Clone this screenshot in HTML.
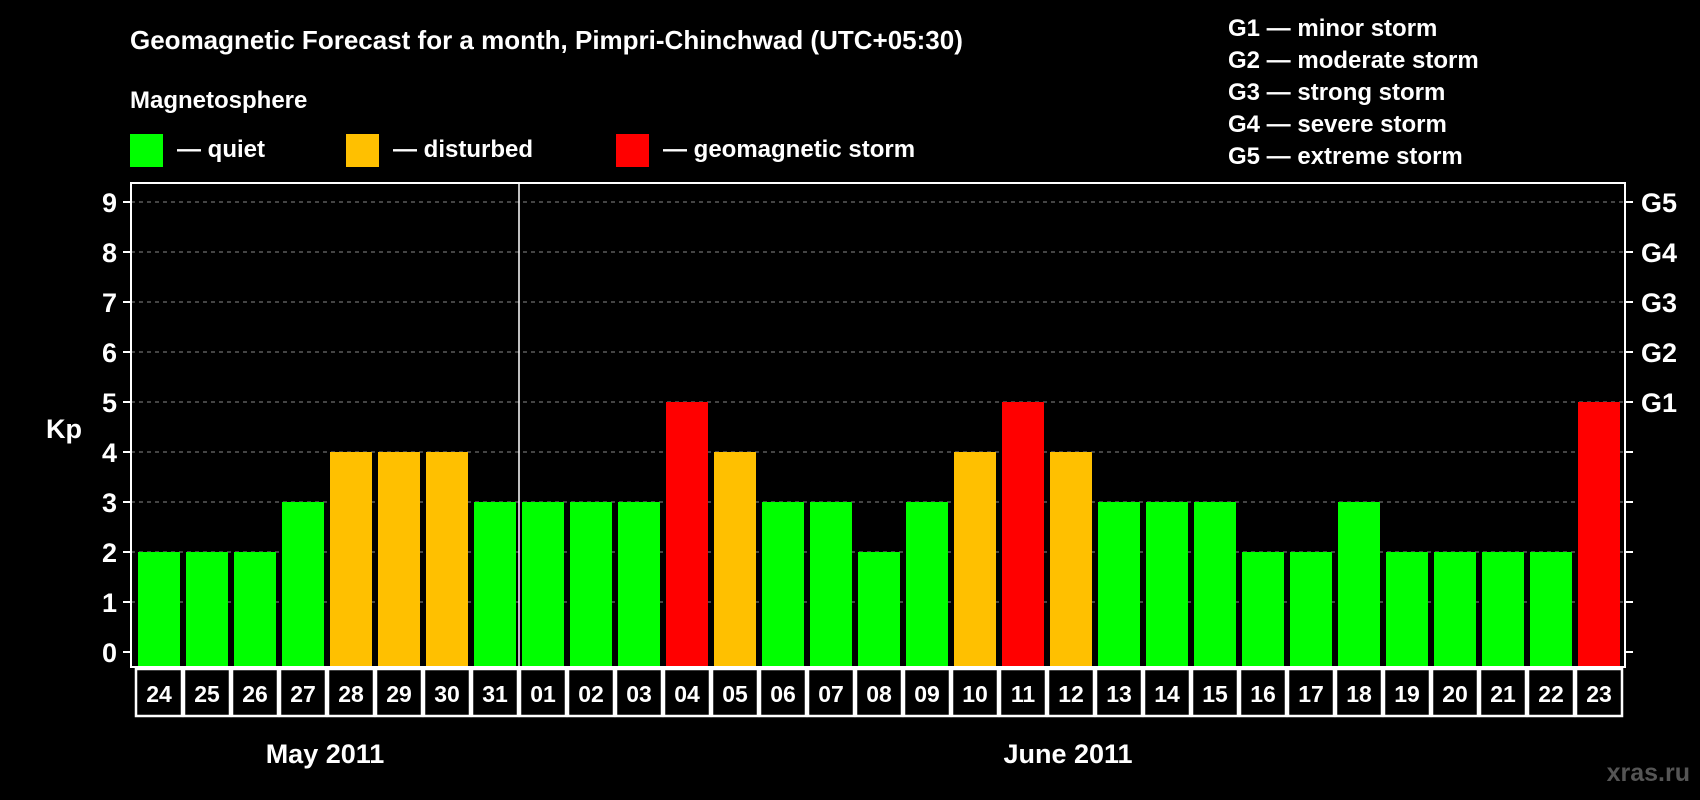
<!DOCTYPE html>
<html><head><meta charset="utf-8"><style>
html,body{margin:0;padding:0;background:#000;}
svg{display:block;font-family:"Liberation Sans",Arial,sans-serif;font-weight:bold;}
</style></head><body>
<svg id="chart" width="1700" height="800" viewBox="0 0 1700 800" xmlns="http://www.w3.org/2000/svg">
<rect x="0" y="0" width="1700" height="800" fill="#000"/>
<text x="130" y="49" fill="#fff" font-size="26">Geomagnetic Forecast for a month, Pimpri-Chinchwad (UTC+05:30)</text>
<text x="130" y="108" fill="#fff" font-size="24">Magnetosphere</text>
<g>
<rect x="130" y="134" width="33" height="33" fill="#00ff00"/>
<text x="177" y="157" fill="#fff" font-size="24">— quiet</text>
<rect x="346" y="134" width="33" height="33" fill="#ffc000"/>
<text x="393" y="157" fill="#fff" font-size="24">— disturbed</text>
<rect x="616" y="134" width="33" height="33" fill="#ff0000"/>
<text x="663" y="157" fill="#fff" font-size="24">— geomagnetic storm</text>
</g>
<g font-size="24" fill="#fff">
<text x="1228" y="36">G1 — minor storm</text>
<text x="1228" y="68">G2 — moderate storm</text>
<text x="1228" y="100">G3 — strong storm</text>
<text x="1228" y="132">G4 — severe storm</text>
<text x="1228" y="164">G5 — extreme storm</text>
</g>
<text x="46" y="438" fill="#fff" font-size="27">Kp</text>
<g id="grid"></g><g id="bars"></g><g id="axes"></g>
<text x="325" y="763" fill="#fff" font-size="27" text-anchor="middle">May 2011</text>
<text x="1068" y="763" fill="#fff" font-size="27" text-anchor="middle">June 2011</text>
<text x="1690" y="781" fill="#555" font-size="25" text-anchor="end">xras.ru</text>
</svg>
<script>
const days = ["24","25","26","27","28","29","30","31","01","02","03","04","05","06","07","08","09","10","11","12","13","14","15","16","17","18","19","20","21","22","23"];
const kp = [2,2,2,3,4,4,4,3,3,3,3,5,4,3,3,2,3,4,5,4,3,3,3,2,2,3,2,2,2,2,5];
const yTicks = [0,1,2,3,4,5,6,7,8,9];
const gLabels = ["G1","G2","G3","G4","G5"];
const gLevels = [5,6,7,8,9];
const monthSplitIndex = 8;

const NS="http://www.w3.org/2000/svg";
const L=131,R=1625,T=183,B=667,Y0=652,UNIT=50,X0=135,SLOT=48;
const yS=v=>Y0-v*UNIT;
const xS=i=>X0+i*SLOT;
function mk(tag,attrs,parent){const e=document.createElementNS(NS,tag);for(const k in attrs)e.setAttribute(k,attrs[k]);parent.appendChild(e);return e;}
const grid=document.getElementById('grid'),bars=document.getElementById('bars'),axes=document.getElementById('axes');
yTicks.forEach(v=>{if(v===0)return;
 const g=mk('line',{x1:L,x2:R,y1:yS(v),y2:yS(v),stroke:'#888','stroke-width':1,'stroke-dasharray':'4,4'},grid);
 
 });
const col=v=>v>=5?'#ff0000':(v>=4?'#ffc000':'#00ff00');
kp.forEach((v,i)=>{
 const r=mk('rect',{x:xS(i)+3,y:yS(v),width:42,height:B-yS(v),fill:col(v)},bars);
 
 
 const b=mk('rect',{x:xS(i)+1,y:669,width:SLOT-2,height:47,fill:'none',stroke:'#fff','stroke-width':2.5},axes);
 
 
 const t=mk('text',{x:xS(i)+SLOT/2,y:702,fill:'#fff','font-size':23,'text-anchor':'middle'},axes);
 t.textContent=days[i];
 
 
});
const fr=mk('rect',{x:L,y:T,width:R-L,height:B-T,fill:'none',stroke:'#fff','stroke-width':2},axes);


const dv=mk('line',{x1:xS(monthSplitIndex),x2:xS(monthSplitIndex),y1:T,y2:716,stroke:'#fff','stroke-width':1.5},axes);


yTicks.forEach(v=>{
 const a=mk('line',{x1:L-8,x2:L,y1:yS(v),y2:yS(v),stroke:'#fff','stroke-width':2},axes);
 
 
 const b=mk('line',{x1:R,x2:R+8,y1:yS(v),y2:yS(v),stroke:'#fff','stroke-width':2},axes);
 
 
 const t=mk('text',{x:117,y:yS(v)+10,fill:'#fff','font-size':27,'text-anchor':'end'},axes);
 t.textContent=v;
 
 
});
gLabels.forEach((g,i)=>{
 const t=mk('text',{x:1641,y:yS(gLevels[i])+10,fill:'#fff','font-size':27},axes);
 t.textContent=g;
 
 
});
</script>
</body></html>
